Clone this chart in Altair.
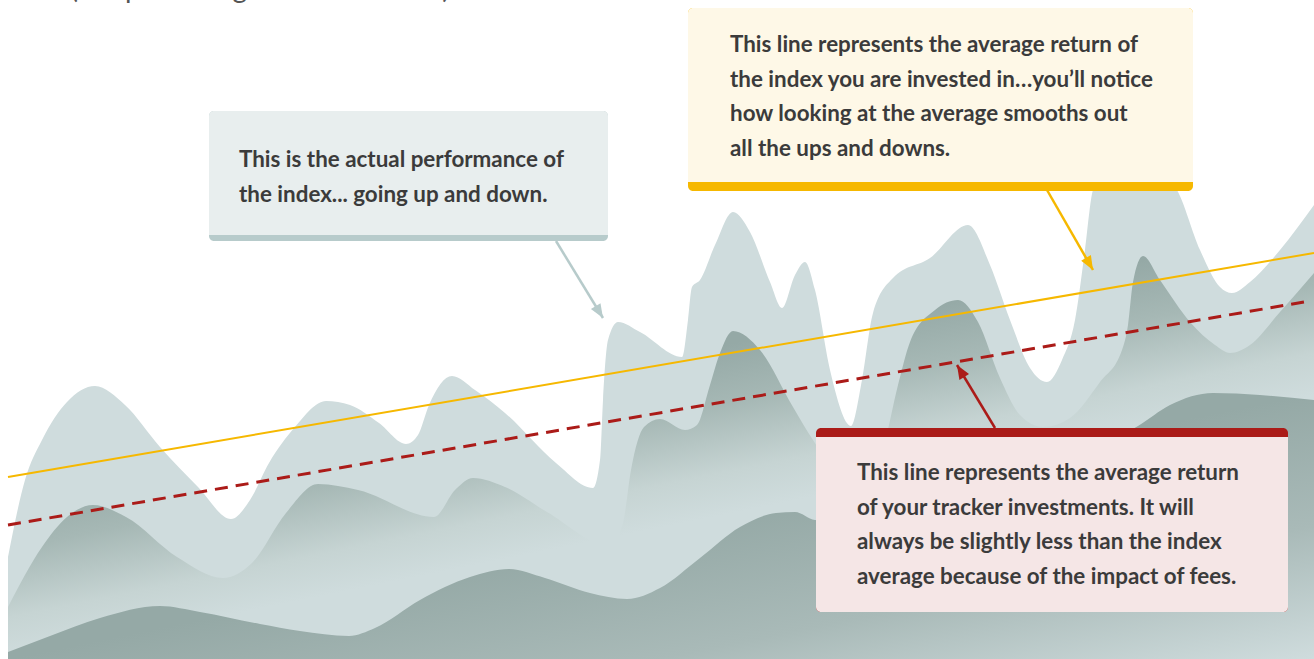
import altair as alt
import numpy as np
import pandas as pd

# Canvas in plot units (1 unit = 1 px), value 0 at the bottom edge
W, H = 1314, 659

# Actual index performance (back, lightest layer)
index_t = [8, 25, 42, 67, 95, 125, 160, 198, 231, 250, 269, 295, 326, 350, 379, 406, 418, 429,
           452, 475, 505, 556, 593, 600, 603, 608, 618, 640, 682, 688, 692, 700, 715, 733, 750,
           770, 782, 795, 805, 815, 830, 851, 862, 873, 893, 930, 968, 990, 1010, 1030, 1047,
           1062, 1075, 1085, 1093, 1112, 1135, 1160, 1177, 1200, 1220, 1232, 1250, 1280, 1314]
index_level = [102, 179, 219, 257, 273, 254, 212, 172, 140, 159, 196, 232, 258, 254, 236, 215, 224,
               254, 283, 269, 246, 196, 171, 199, 259, 319, 337, 327, 302, 339, 372, 379, 414, 447,
               427, 377, 351, 384, 397, 369, 289, 233, 279, 346, 381, 401, 434, 394, 339, 291, 277,
               299, 339, 409, 469, 497, 501, 487, 469, 409, 372, 366, 377, 409, 454]

# Tracker fund performance (middle layer)
tracker_t = [8, 42, 67, 93, 126, 177, 223, 252, 286, 318, 358, 434, 455, 473, 505, 547, 610, 623,
             631, 644, 660, 685, 697, 710, 720, 733, 760, 793, 813, 835, 855, 872, 885, 898, 910,
             935, 958, 978, 1000, 1020, 1043, 1070, 1100, 1122, 1128, 1133, 1143, 1160, 1190,
             1215, 1230, 1250, 1280, 1314]
tracker_level = [52, 112, 142, 154, 142, 102, 81, 96, 146, 175, 169, 142, 169, 181, 172, 147, 113,
                 136, 189, 232, 240, 229, 234, 274, 306, 328, 309, 252, 219, 189, 181, 194, 219,
                 274, 317, 349, 359, 337, 281, 244, 232, 241, 277, 309, 334, 377, 403, 379, 337,
                 314, 306, 314, 347, 386]

# Fees drag (front, bottom layer)
fees_t = [8, 50, 100, 160, 200, 260, 300, 349, 375, 420, 470, 509, 545, 590, 627, 660, 700, 740,
          776, 795, 815, 850, 900, 950, 1000, 1060, 1100, 1138, 1170, 1213, 1260, 1314]
fees_level = [7, 23, 41, 53, 47, 35, 28, 23, 31, 59, 82, 90, 81, 66, 60, 71, 101, 132, 146, 147,
              139, 137, 154, 171, 187, 203, 214, 233, 254, 266, 264, 259]

# Average-return lines
avg_t = [8, 1314]
index_avg = [182, 406]
tracker_avg_t = [8, 1304]
tracker_avg = [134, 357]

# Callouts: box extents, accent bar, text lines
gray_box = dict(x=209, x2=608, top=548, bottom=418, bar=6)
yellow_box = dict(x=688, x2=1193, top=651, bottom=468, bar=9)
red_box = dict(x=816, x2=1288, top=231, bottom=47, bar=9)

gray_lines = ["This is the actual performance of", "the index... going up and down."]
yellow_lines = ["This line represents the average return of",
                "the index you are invested in\u2026you\u2019ll notice",
                "how looking at the average smooths out",
                "all the ups and downs."]
red_lines = ["This line represents the average return",
             "of your tracker investments. It will",
             "always be slightly less than the index",
             "average because of the impact of fees."]

heading_text = "costs (the percentage of the amount)"

# Arrows: start (at box) and tip
arrow_x0 = [556, 1047, 995]
arrow_y0 = [418, 469, 231]
arrow_x1 = [603, 1093, 957]
arrow_y1 = [341, 389, 294]
arrow_colors = ["#b7cbcb", "#f6b800", "#ab1b18"]

LIGHT = "#cfdcdd"
DARK = "#95a9a6"
TEXT = "#3b3b3b"
FONT = "Lato"

xs = alt.Scale(domain=[0, W], nice=False, zero=False)
ys = alt.Scale(domain=[0, H], nice=False, zero=False)
X = lambda f: alt.X(f, type="quantitative", scale=xs, axis=None)
Y = lambda f: alt.Y(f, type="quantitative", scale=ys, axis=None)

layer_index = pd.DataFrame({"t": index_t, "v": index_level})
layer_tracker = pd.DataFrame({"t": tracker_t, "v": tracker_level})
layer_fees = pd.DataFrame({"t": fees_t, "v": fees_level})

area_index = alt.Chart(layer_index).mark_area(
    interpolate="monotone", color=LIGHT, opacity=1
).encode(x=X("t"), y=Y("v"))

area_tracker = alt.Chart(layer_tracker).mark_area(
    interpolate="monotone", opacity=1,
    color=alt.Gradient(
        gradient="linear",
        stops=[alt.GradientStop(color=DARK, offset=0),
               alt.GradientStop(color="#a6b8b5", offset=0.35),
               alt.GradientStop(color="#c6d4d3", offset=0.75),
               alt.GradientStop(color=LIGHT, offset=1)],
        x1=0.5, y1=0.253, x2=0.693, y2=0.547),
).encode(x=X("t"), y=Y("v"))

area_fees = alt.Chart(layer_fees).mark_area(
    interpolate="monotone", opacity=1,
    color=alt.Gradient(
        gradient="linear",
        stops=[alt.GradientStop(color=DARK, offset=0),
               alt.GradientStop(color="#a9bab8", offset=0.5),
               alt.GradientStop(color=LIGHT, offset=1)],
        x1=0.5, y1=0.5, x2=1, y2=1),
).encode(x=X("t"), y=Y("v"))

line_index = alt.Chart(pd.DataFrame({"t": avg_t, "v": index_avg})).mark_line(
    color="#f6b800", strokeWidth=2
).encode(x=X("t"), y=Y("v"))

line_tracker = alt.Chart(pd.DataFrame({"t": tracker_avg_t, "v": tracker_avg})).mark_line(
    color="#ab1b18", strokeWidth=3, strokeDash=[13, 8]
).encode(x=X("t"), y=Y("v"))


def callout(box, fill, bar, bar_on_top):
    outer = pd.DataFrame([{"x": box["x"], "x2": box["x2"], "y": box["top"], "y2": box["bottom"]}])
    if bar_on_top:
        inner = pd.DataFrame([{"x": box["x"], "x2": box["x2"],
                               "y": box["top"] - box["bar"], "y2": box["bottom"]}])
        corners = dict(cornerRadiusBottomLeft=5, cornerRadiusBottomRight=5)
    else:
        inner = pd.DataFrame([{"x": box["x"], "x2": box["x2"],
                               "y": box["top"], "y2": box["bottom"] + box["bar"]}])
        corners = dict(cornerRadiusTopLeft=5, cornerRadiusTopRight=5)
    base = alt.Chart(outer).mark_rect(color=bar, cornerRadius=5).encode(
        x=X("x"), x2="x2", y=Y("y"), y2="y2")
    face = alt.Chart(inner).mark_rect(color=fill, **corners).encode(
        x=X("x"), x2="x2", y=Y("y"), y2="y2")
    return base + face


def text_block(lines, x, y_first, step):
    df = pd.DataFrame({"x": [x] * len(lines),
                       "y": [y_first - i * step for i in range(len(lines))],
                       "label": lines})
    return alt.Chart(df).mark_text(
        align="left", baseline="middle", font=FONT, fontWeight="bold",
        fontSize=22.4, color=TEXT
    ).encode(x=X("x"), y=Y("y"), text="label:N")


arrows = pd.DataFrame({"x0": arrow_x0, "y0": arrow_y0, "x1": arrow_x1, "y1": arrow_y1,
                       "c": arrow_colors})
arrows["angle"] = np.degrees(np.arctan2(arrows.x1 - arrows.x0, arrows.y1 - arrows.y0)) % 360

arrow_shafts = alt.Chart(arrows).mark_rule(strokeWidth=2.5).encode(
    x=X("x0"), y=Y("y0"), x2="x1", y2="y1",
    color=alt.Color("c:N", scale=None))
arrow_heads = alt.Chart(arrows).mark_point(
    shape="M0,0 L-0.8,2 L0.8,2 Z", filled=True, size=196, opacity=1, strokeWidth=0
).encode(x=X("x1"), y=Y("y1"), color=alt.Color("c:N", scale=None),
         angle=alt.Angle("angle:Q", scale=None))

# Running heading from the previous block, mostly above the top edge
heading = alt.Chart(pd.DataFrame({"x": [0], "y": [661.5], "label": [heading_text]})).mark_text(
    align="left", baseline="alphabetic", font=FONT, fontSize=28, color="#555555"
).encode(x=X("x"), y=Y("y"), text="label:N")

chart = alt.layer(
    area_index, area_tracker, area_fees, line_index, line_tracker,
    arrow_shafts, arrow_heads,
    callout(gray_box, "#e8eeee", "#b7cbcb", bar_on_top=False),
    callout(yellow_box, "#fef8e7", "#f6b800", bar_on_top=False),
    callout(red_box, "#f5e6e6", "#ab1b18", bar_on_top=True),
    text_block(gray_lines, 239, 499, 35),
    text_block(yellow_lines, 730, 614, 34.5),
    text_block(red_lines, 857, 186, 34.7),
    heading,
).properties(
    width=W, height=H, padding=0, background="white",
    autosize=alt.AutoSizeParams(type="none"),
).configure_view(stroke=None)

chart.save("out.html", embed_options={"renderer": "svg", "actions": False})
